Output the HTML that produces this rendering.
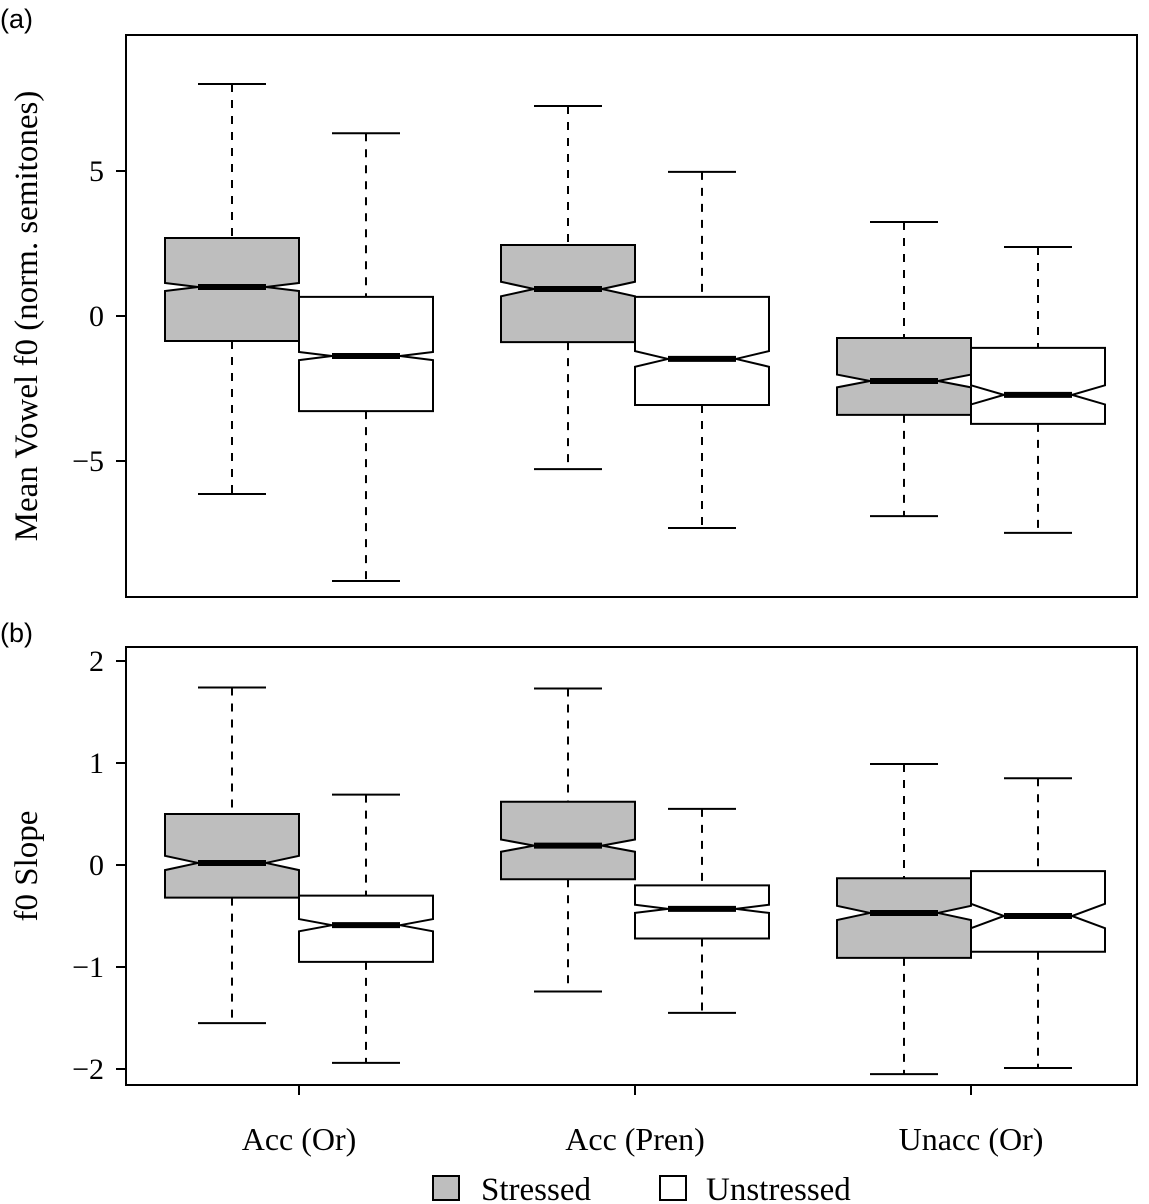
<!DOCTYPE html>
<html><head><meta charset="utf-8"><style>
html,body{margin:0;padding:0;background:#fff}
svg{display:block;font-family:"Liberation Serif",serif}
</style></head><body>
<svg id="c" width="1149" height="1204" viewBox="0 0 1149 1204"></svg>
<script>
const categories=["Acc (Or)","Acc (Pren)","Unacc (Or)"];
const groups=["Stressed","Unstressed"];
// panel a: [lo,q1,med,q3,hi,notch]
const aStressed=[[-6.14,-0.86,1.0,2.69,8.0,0.14],[-5.28,-0.9,0.93,2.45,7.24,0.25],[-6.9,-3.41,-2.24,-0.76,3.24,0.22]];
const aUnstressed=[[-9.14,-3.28,-1.38,0.66,6.3,0.14],[-7.31,-3.07,-1.48,0.66,4.97,0.27],[-7.48,-3.72,-2.72,-1.1,2.38,0.33]];
const bStressed=[[-1.55,-0.32,0.02,0.5,1.74,0.07],[-1.24,-0.14,0.19,0.62,1.73,0.06],[-2.05,-0.91,-0.47,-0.13,0.99,0.07]];
const bUnstressed=[[-1.94,-0.95,-0.59,-0.3,0.69,0.06],[-1.45,-0.72,-0.43,-0.2,0.55,0.04],[-1.99,-0.85,-0.5,-0.06,0.85,0.12]];
const aTicks=[-5,0,5];
const bTicks=[-2,-1,0,1,2];
const NS="http://www.w3.org/2000/svg";
const svg=document.getElementById('c');
function mk(t,at,p){const e=document.createElementNS(NS,t);for(const k in at)e.setAttribute(k,at[k]);(p||svg).appendChild(e);return e;}
const xc=i=>299+336*i;
function panel(name,top,bot,y,ticks,S,U,ylab,tag,tagY){
  const g=mk('g',{});
  
  
  [[S,-67,'#bebebe','stressed'],[U,67,'#fff','unstressed']].forEach(([D,off,fill,gn])=>{
    D.forEach((d,i)=>{
      const cx=xc(i)+off,hw=67,nw=34;
      const [lo,q1,md,q3,hi,n]=d;
      const bg=mk('g',{},g);
      
      
      mk('line',{x1:cx,x2:cx,y1:y(hi),y2:y(q3),stroke:'#000','stroke-width':2,'stroke-dasharray':'8,8'},bg);
      mk('line',{x1:cx,x2:cx,y1:y(q1),y2:y(lo),stroke:'#000','stroke-width':2,'stroke-dasharray':'8,8'},bg);
      mk('line',{x1:cx-nw,x2:cx+nw,y1:y(hi),y2:y(hi),stroke:'#000','stroke-width':2},bg);
      mk('line',{x1:cx-nw,x2:cx+nw,y1:y(lo),y2:y(lo),stroke:'#000','stroke-width':2},bg);
      const L=cx-hw,R=cx+hw;
      const pts=[[L,y(q3)],[R,y(q3)],[R,y(md+n)],[cx+nw,y(md)],[R,y(md-n)],[R,y(q1)],[L,y(q1)],[L,y(md-n)],[cx-nw,y(md)],[L,y(md+n)]];
      mk('polygon',{points:pts.map(p=>p.join(',')).join(' '),fill:fill,stroke:'#000','stroke-width':2},bg);
      mk('line',{x1:cx-nw,x2:cx+nw,y1:y(md),y2:y(md),stroke:'#000','stroke-width':6},bg);
    });
  });
  mk('rect',{x:126,y:top,width:1011,height:bot-top,fill:'none',stroke:'#000','stroke-width':2},g);
  ticks.forEach(t=>{
    mk('line',{x1:116,x2:126,y1:y(t),y2:y(t),stroke:'#000','stroke-width':2},g);
    const tx=mk('text',{x:104,y:y(t)+10,'font-size':30,'text-anchor':'end'},g);
    tx.textContent=(t<0?'\u2212'+(-t):t);
  });
  const my=(top+bot)/2;
  const yl=mk('text',{x:37,y:my,'font-size':33,'text-anchor':'middle',transform:`rotate(-90 37 ${my})`},g);
  
  
  yl.textContent=ylab;
  const tg=mk('text',{x:0,y:tagY,'font-family':'Liberation Sans, sans-serif','font-size':27},g);
  
  
  tg.textContent=tag;
}
panel('panel-a',35,597,v=>316-29*v,aTicks,aStressed,aUnstressed,'Mean Vowel f0 (norm. semitones)','(a)',28);
panel('panel-b',647,1085,v=>865-102*v,bTicks,bStressed,bUnstressed,'f0 Slope','(b)',642);
categories.forEach((c,i)=>{
  mk('line',{x1:xc(i),x2:xc(i),y1:1085,y2:1095,stroke:'#000','stroke-width':2});
  const t=mk('text',{x:xc(i),y:1150,'font-size':32,'text-anchor':'middle'});
  
  
  t.textContent=c;
});
const lg=mk('g',{});


[[433,'#bebebe',481],[660,'#fff',706]].forEach(([x,f,tx],i)=>{
  mk('rect',{x:x,y:1176,width:26,height:24,fill:f,stroke:'#000','stroke-width':2},lg);
  const t=mk('text',{x:tx,y:1200,'font-size':33},lg);
  
  
  t.textContent=groups[i];
});
</script>
</body></html>
